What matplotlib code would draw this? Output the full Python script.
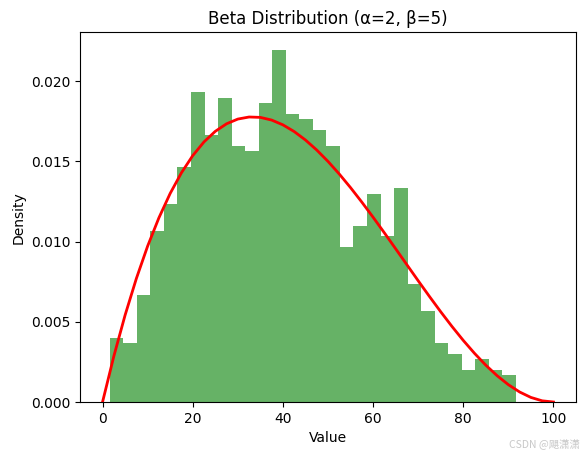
import numpy as np
import matplotlib
matplotlib.use("Agg")
import matplotlib.pyplot as plt

# Histogram (density)
bin_start = 1.6
bin_width = 3.003
densities = [0.00399, 0.00368, 0.00667, 0.01066, 0.01235, 0.01465, 0.01933, 0.01665,
             0.01896, 0.01596, 0.01565, 0.01865, 0.02195, 0.01796, 0.01765, 0.01696,
             0.01596, 0.00967, 0.01098, 0.01297, 0.01035, 0.01335, 0.00736, 0.00567,
             0.00368, 0.00299, 0.00200, 0.00268, 0.00200, 0.00168]

# Red density curve (value, density)
curve_x = [0, 2.5, 5, 7.5, 10, 12.5, 15, 17.5, 20, 22.5, 25, 27.5, 30, 32.5, 35, 37.5,
           40, 42.5, 45, 47.5, 50, 52.5, 55, 57.5, 60, 62.5, 65, 67.5, 70, 72.5, 75,
           77.5, 80, 82.5, 85, 87.5, 90, 92.5, 95, 97.5, 100]
curve_y = [0.0, 0.00285, 0.005415, 0.00770, 0.00972, 0.011484, 0.013005, 0.014293,
           0.01536, 0.016217, 0.016875, 0.017346, 0.01764, 0.017769, 0.017745, 0.017578,
           0.01728, 0.016862, 0.016335, 0.015711, 0.015, 0.014214, 0.013365, 0.012463,
           0.01152, 0.010547, 0.009555, 0.008556, 0.00756, 0.006579, 0.005625, 0.004708,
           0.00384, 0.003032, 0.002295, 0.001641, 0.00108, 0.000624, 0.000285, 0.000073, 0.0]

fig = plt.figure(figsize=(5.84, 4.55), dpi=100)
ax = fig.add_axes([80/584, 53/455, 496/584, 369.7/455])

lefts = bin_start + bin_width * np.arange(len(densities))
ax.bar(lefts, densities, width=bin_width, align='edge', color='g', alpha=0.6, linewidth=0)
ax.plot(curve_x, curve_y, color='red', linewidth=2)

ax.set_title('Beta Distribution (α=2, β=5)')
ax.set_xlabel('Value')
ax.set_ylabel('Density')
ax.set_ylim(0, 0.02305)
ax.set_xlim(-5, 105)

fig.text(0.993, 0.012, 'CSDN @飓潇潇', ha='right', va='bottom', fontsize=7.5,
         color='#c8c8c8', family=['Noto Sans CJK SC', 'DejaVu Sans'])

fig.savefig('out.png', dpi=100)
